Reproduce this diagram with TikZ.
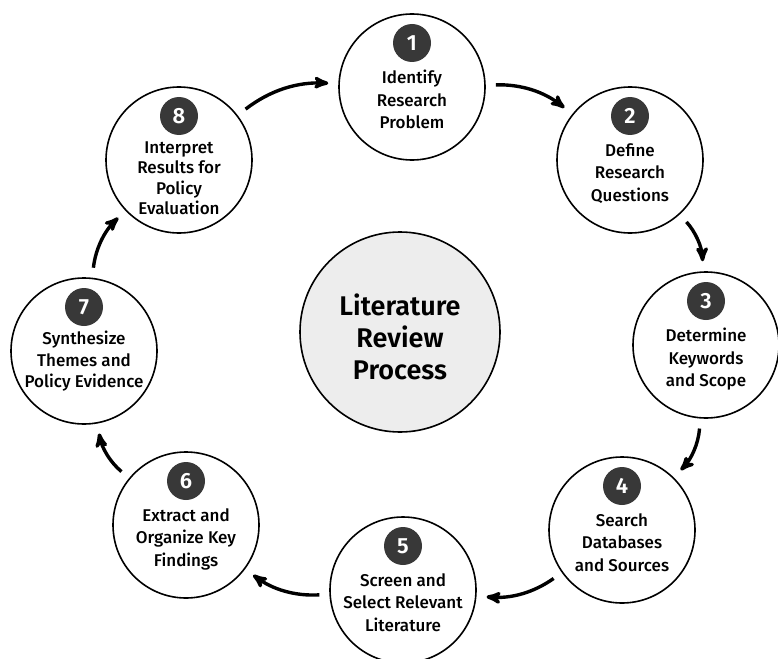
\documentclass[tikz,border=0pt]{standalone}
\usepackage{fontspec}
\setmainfont{Fira Sans}
\newfontfamily\stagefont{Fira Sans Medium}
\newfontfamily\hubfont{Fira Sans SemiBold}
\usetikzlibrary{arrows, positioning}

\begin{document}
\begin{tikzpicture}[x=1pt, y=-1pt,
        node distance = 8pt,
        stagecircle/.style = {draw, circle, line width=1.6pt, minimum size=146pt, inner sep=0pt},
        hubcircle/.style = {draw, circle, line width=1.6pt, fill=black!7, minimum size=200pt, inner sep=0pt},
        badge/.style = {circle, fill=black!78, text=white, minimum size=38pt, inner sep=0pt, font=\hubfont\fontsize{22}{22}\selectfont},
        stagetext/.style = {align=center, inner sep=0pt, font=\stagefont\fontsize{17}{22.5}\selectfont},
        flow/.style = {-stealth', line width=3.4pt, shorten <=10pt, shorten >=10pt},
    ]
    \useasboundingbox (0,0) rectangle (778,658);
    % centre
    \node[hubcircle] (hub) at (400,332) {};
    \node[align=center, font=\hubfont\fontsize{27}{32}\selectfont] (hubtext) at ([yshift=-5pt]hub.center) {Literature\\Review\\Process};
    % stages
    \node[stagecircle] (s1) at (412,87) {};
    \node[stagecircle] (s2) at (630,160) {};
    \node[stagecircle] (s3) at (706,345) {};
    \node[stagecircle] (s4) at (622,530) {};
    \node[stagecircle] (s5) at (403,590) {};
    \node[stagecircle] (s6) at (186,525) {};
    \node[stagecircle] (s7) at (84,351) {};
    \node[stagecircle] (s8) at (179,160) {};
    %
    \foreach \i in {1,...,8}
        \node[badge] (b\i) at ([yshift=44pt]s\i.center) {\i};
    %
    \node[stagetext, below=of b1] (t1) {Identify\\Research\\Problem};
    \node[stagetext, below=of b2] (t2) {Define\\Research\\Questions};
    \node[stagetext, below=of b3] (t3) {Determine\\Keywords\\and Scope};
    \node[stagetext, below=of b4] (t4) {Search\\Databases\\and Sources};
    \node[stagetext, below=of b5] (t5) {Screen and\\Select Relevant\\Literature};
    \node[stagetext, below=of b6] (t6) {Extract and\\Organize Key\\Findings};
    \node[stagetext, below=5pt of b7, font=\stagefont\fontsize{17}{21.5}\selectfont] (t7) {Synthesize\\Themes and\\Policy Evidence};
    \node[stagetext, below=6pt of b8, font=\stagefont\fontsize{17}{20.5}\selectfont] (t8) {Interpret\\Results for\\Policy\\Evaluation};
    %
    \draw[flow] (s1) to[bend left=20] (s2);
    \draw[flow] (s2) to[bend left=20] (s3);
    \draw[flow] (s3) to[bend left=20] (s4);
    \draw[flow] (s4) to[bend left=20] (s5);
    \draw[flow] (s5) to[bend left=20] (s6);
    \draw[flow] (s6) to[bend left=20] (s7);
    \draw[flow] (s7) to[bend left=20] (s8);
    \draw[flow] (s8) to[bend left=20] (s1);
    %
\end{tikzpicture}
\end{document}
